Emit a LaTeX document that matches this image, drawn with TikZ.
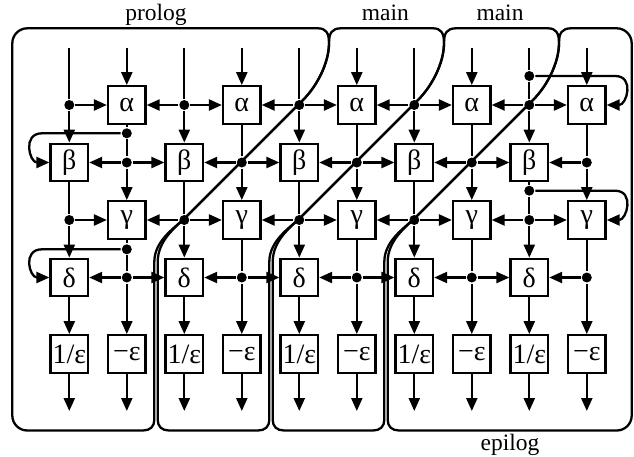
\documentclass[tikz,border=0pt]{standalone}
\usepackage{fontspec}
\setmainfont{Liberation Serif}
\usetikzlibrary{arrows.meta}
\begin{document}
\begin{tikzpicture}[x=1pt,y=-1pt,line width=2.3pt,
  box/.style={draw,minimum size=37.5pt,inner sep=0pt,font=\fontsize{28}{28}\selectfont},
  dot/.style={circle,fill,inner sep=0pt,minimum size=10pt},
  arr/.style={-{Triangle[length=13pt,width=11pt]}},
  region/.style={line width=2.3pt,line join=round},
  lbl/.style={font=\fontsize{23.5}{23.5}\selectfont,anchor=base,inner sep=0pt}]
\useasboundingbox (0,0) rectangle (634,456);

% regions
\draw[region] (27.3,28.3) -- (318,28.3) .. controls (326,28.3) and (329,33) .. (329,43) .. controls (329,63) and (317,86) .. (303,100) -- (186,217) .. controls (176,227) and (154.3,240) .. (154.3,262) -- (154.3,420) .. controls (154.3,426.5) and (150,430.5) .. (143,430.5) -- (27.3,430.5) .. controls (19,430.5) and (12.3,423.8) .. (12.3,415.5) -- (12.3,43.3) .. controls (12.3,35) and (19,28.3) .. (27.3,28.3) -- cycle;
\draw[region] (341,28.3) -- (433,28.3) .. controls (441,28.3) and (444,33) .. (444,43) .. controls (444,63) and (432,86) .. (418,100) -- (301,217) .. controls (291,227) and (269.3,240) .. (269.3,262) -- (269.3,420) .. controls (269.3,426.5) and (265,430.5) .. (258,430.5) -- (169,430.5) .. controls (162,430.5) and (157.7,426.5) .. (157.7,420) -- (157.7,262) .. controls (157.7,240) and (176,227) .. (186,217) -- (303,100) .. controls (317,86) and (329,63) .. (329,43) .. controls (329,33) and (332,28.3) .. (341,28.3) -- cycle;
\draw[region] (456,28.3) -- (548,28.3) .. controls (556,28.3) and (559,33) .. (559,43) .. controls (559,63) and (547,86) .. (533,100) -- (416,217) .. controls (406,227) and (384.3,240) .. (384.3,262) -- (384.3,420) .. controls (384.3,426.5) and (380,430.5) .. (373,430.5) -- (284,430.5) .. controls (277,430.5) and (272.7,426.5) .. (272.7,420) -- (272.7,262) .. controls (272.7,240) and (291,227) .. (301,217) -- (418,100) .. controls (432,86) and (444,63) .. (444,43) .. controls (444,33) and (447,28.3) .. (456,28.3) -- cycle;
\draw[region] (571,28.3) -- (616.7,28.3) .. controls (625,28.3) and (631.7,35) .. (631.7,43.3) -- (631.7,415.5) .. controls (631.7,423.8) and (625,430.5) .. (616.7,430.5) -- (399,430.5) .. controls (392,430.5) and (387.7,426.5) .. (387.7,420) -- (387.7,262) .. controls (387.7,240) and (406,227) .. (416,217) -- (533,100) .. controls (547,86) and (559,63) .. (559,43) .. controls (559,33) and (562,28.3) .. (571,28.3) -- cycle;

% labels
\node[lbl] (lp) at (156,20.5) {prolog};
\node[lbl] (lm1) at (385.3,20) {main};
\node[lbl] (lm2) at (500,20) {main};
\node[lbl] (le) at (510,450) {epilog};

% odd columns
\foreach \c in {1,3,5,7,9} {
  \node[box] (a\c) at ({69.3+57.5*\c},105) {α};
  \node[box] (g\c) at ({69.3+57.5*\c},220) {γ};
  \node[box] (n\c) at ({69.3+57.5*\c},354) {−ε};
  \coordinate (t\c) at ({69.3+57.5*\c},48);
  \coordinate (e\c) at ({69.3+57.5*\c},411);
  \node[dot] (pb\c) at ({69.3+57.5*\c},162.5) {};
  \node[dot] (pd\c) at ({69.3+57.5*\c},277.5) {};
}
% even columns
\foreach \c in {0,2,4,6,8} {
  \node[box] (b\c) at ({69.3+57.5*\c},162.5) {β};
  \node[box] (d\c) at ({69.3+57.5*\c},277.5) {δ};
  \node[box] (i\c) at ({69.3+57.5*\c},354) {1/ε};
  \coordinate (t\c) at ({69.3+57.5*\c},48);
  \coordinate (e\c) at ({69.3+57.5*\c},411);
  \node[dot] (pa\c) at ({69.3+57.5*\c},105) {};
  \node[dot] (pg\c) at ({69.3+57.5*\c},220) {};
}
% loop dots
\node[dot] (la1) at (126.8,133.3) {};
\node[dot] (lg1) at (126.8,249.3) {};
\node[dot] (lt8) at (529.3,76) {};
\node[dot] (lb8) at (529.3,190.7) {};
\coordinate (la1x) at (42,133.3);
\coordinate (lg1x) at (42,249.3);
\coordinate (lt8x) at (615,76);
\coordinate (lb8x) at (615,190.7);

% vertical connectors, odd columns
\foreach \c in {3,5,7,9} {
  \draw (a\c) -- (pb\c);
  \draw (g\c) -- (pd\c);
}
\draw (a1) -- (la1) -- (pb1);
\draw (g1) -- (lg1) -- (pd1);
\foreach \c in {1,3,5,7,9} {
  \draw[arr] (t\c) -- (a\c);
  \draw[arr] (pb\c) -- (g\c);
  \draw[arr] (pd\c) -- (n\c);
  \draw[arr] (n\c) -- (e\c);
}
\foreach \c/\l in {1/0,3/2,5/4,7/6,9/8} {
  \draw[arr] (pb\c) -- (b\l);
  \draw[arr] (pd\c) -- (d\l);
}
\foreach \c/\r in {1/2,3/4,5/6,7/8} {
  \draw[arr] (pb\c) -- (b\r);
  \draw[arr] (pd\c) -- (d\r);
}
% vertical connectors, even columns
\foreach \c in {0,2,4,6} {
  \draw (t\c) -- (pa\c);
  \draw (b\c) -- (pg\c);
}
\draw (t8) -- (lt8) -- (pa8);
\draw (b8) -- (lb8) -- (pg8);
\foreach \c in {0,2,4,6,8} {
  \draw[arr] (pa\c) -- (b\c);
  \draw[arr] (pg\c) -- (d\c);
  \draw[arr] (d\c) -- (i\c);
  \draw[arr] (i\c) -- (e\c);
}
\foreach \c/\r in {0/1,2/3,4/5,6/7,8/9} {
  \draw[arr] (pa\c) -- (a\r);
  \draw[arr] (pg\c) -- (g\r);
}
\foreach \c/\l in {2/1,4/3,6/5,8/7} {
  \draw[arr] (pa\c) -- (a\l);
  \draw[arr] (pg\c) -- (g\l);
}
% loops
\draw[arr] (la1) -- (la1x) .. controls +(-20,0) and +(-20,0) .. (b0.west);
\draw[arr] (lg1) -- (lg1x) .. controls +(-20,0) and +(-20,0) .. (d0.west);
\draw[arr] (lt8) -- (lt8x) .. controls +(20,0) and +(20,0) .. (a9.east);
\draw[arr] (lb8) -- (lb8x) .. controls +(20,0) and +(20,0) .. (g9.east);
\end{tikzpicture}
\end{document}
